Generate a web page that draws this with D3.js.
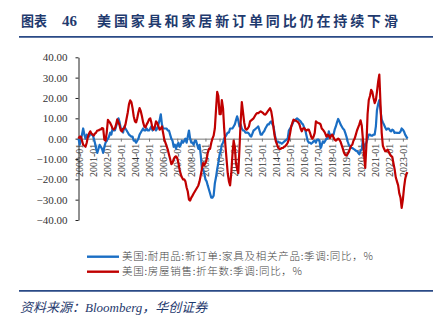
<!DOCTYPE html>
<html><head><meta charset="utf-8">
<script src="https://cdn.jsdelivr.net/npm/d3@7"></script>
<style>
html,body{margin:0;padding:0;background:#fff;}
svg{display:block;}
</style></head>
<body>
<svg id="chart" width="442" height="323"></svg>
<script>
// ---- data ----
const startMonth = "2000-01";
const xTickLabels = ["2000-01","2001-01","2002-01","2003-01","2004-01","2005-01","2006-01","2007-01","2008-01","2009-01","2010-01","2011-01","2012-01","2013-01","2014-01","2015-01","2016-01","2017-01","2018-01","2019-01","2020-01","2021-01","2022-01","2023-01"];
const yTicks = [-40,-30,-20,-10,0,10,20,30,40];
const seriesNames = ["美国:耐用品:新订单:家具及相关产品:季调:同比，%","美国:房屋销售:折年数:季调:同比，%"];
const furnitureOrders = [
 0,-3,-1,2,5,2,0,2,1,1,3,2,
 2,0,-2,-5,-7,-5,-3,-4,-5,-7,-4,-2,
 -1,0,1,3,2,5,4,4,6,8,10,8,
 5,4,3,6,5,4,3,2,1.5,1,1,-1,
 -1,-2,-1,0,2,3,4,5,4,4,5,4,
 4,5,6,4,5,6,4,5,7,9,12,7,
 5,5,5,5,4,4,2,0,-1,-4,-3,-5,
 -3,-2,-4,-3,-1,-2,-1,0,-2,1,4,0,
 -2,-2,-3,-1,-1,-3,-5,-3,-8,-15,-15,-17,
 -20,-21,-23,-25,-27,-29,-29,-28,-22,-19,-15,-12,
 -8,-6,-3,-2,0,1,2,3,3,5,5,5,
 6,7,9,11,9,6,7,5,4,4,3,3,
 3,2.5,1.5,1,2.5,4,4.4,5,5.5,6,4,2,
 2,3,3.6,5,6,7,7,8,8.5,7,6,2,
 -0.5,-2,-1.5,-2,-2,-2.5,-2,-1.5,-1,-0.5,0,4,
 5,6,7,8.5,9,9.5,10,9.5,9,8.5,7.5,7,
 5.5,4,1.5,-1,-2,-2,-2.5,-2,-1.3,-1,-2,-0.5,
 -0.5,-1,-4.6,-3,-1.3,-2,-1,0,0,3.6,1.3,2,
 1.5,2,4.4,6,8,9.7,8.5,7,6,5,4.4,2.8,
 1,-1.3,-3,-3.7,-4.6,-4.6,-5,-5.4,-6,-6,-7,-7.7,
 -6,-5.4,-0.5,-5,-3,-2,0,2,2,1.5,1.5,2,
 2,6,14,17,19,14,9.4,8,6.8,5.5,4.4,5,
 5,4,3.6,4.4,4,2.8,3,2.8,2.8,2.8,3.5,5,
 4.4,3.5,2,1,0
];
const homeSales = [
 0,1,1,-1,-3,-3.5,-4,-2,1,2.5,3.6,2.5,
 2,1.5,2.5,3,4,4,4.4,4.5,5.2,5,-0.5,-1,
 3,9.3,8.5,7.7,6.5,5,4.5,5,7,9.5,8,6.5,
 4,3.5,5,5,7,10,13,17,18.8,18,15,11,
 8.5,8,10,13,15,13.5,11,8,6,5.5,7,8,
 9.5,10,8,5,4.4,6,8.5,7.7,6,4.4,5,6,
 2.8,-0.5,-2,-3.7,-5.4,-7.8,-10,-12.5,-12,-10,-9,-8.7,
 -9.5,-12,-15,-17.5,-19,-20,-20,-21,-24,-26,-30,-30.4,
 -29,-28,-27,-26,-25,-24,-23,-21,-18,-15,-12,-13,
 -12,-10.3,-7,-5,-5,-2,0,1.5,5,14,23,21,
 12,12,19,15,5,-3,-10,-17,-21,-23,-17,-8,
 -1,-4,-12,-15,-17,-5,8,18,13,8,5,4.4,
 5,6,8.5,9,9.5,10,11,12,12.6,12.5,13,13.4,
 13,12.6,12,11.8,12.5,13.4,14.2,15,13.4,10,5,1,
 -1.5,-3,-4.5,-5,-5,-4.6,-4.6,-4,-3.7,-3,-2,-0.5,
 2.5,6,7.7,9.3,9,8.8,8.5,8,7,5,3.6,5,
 5.2,4.4,4,4.4,4.4,2.8,1,0,1,2.8,8.5,8,
 7.7,7.5,7,5,4.4,3.6,2.5,1,2,1.5,0.3,1.5,
 2,0.5,-0.5,-1,-0.5,0,-0.5,-1.5,-3.3,-5,-7,-8,
 -8.3,-7.5,-6.5,-5,-3.5,-3,-1,0,2,4,5.5,7,
 9,6.5,0,-8,-14.4,-3,12,19,21,24,23,20,
 17.5,19,23,28,31.5,17,3,-3.5,-5,-6.2,-6,-5.4,
 -6.5,-7.8,-8.5,-9,-12,-15,-19,-21,-23,-27,-29,-34,
 -30,-24,-20,-17.4,-16.5
];
const colors = ["#1a6ec4","#c00000"];

// ---- chart ----
const svg = d3.select("#chart");
const parse = d3.timeParse("%Y-%m");
const t0 = parse(startMonth);
const months = furnitureOrders.map((_, i) => d3.timeMonth.offset(t0, i));

const x = d3.scaleTime().domain([months[0], months[months.length-1]]).range([78.5, 407.5]);
const y = d3.scaleLinear().domain([-40, 40]).range([220, 57.3]);

// title
const navy = "#1f3a6e";
svg.append("text").attr("x", 21).attr("y", 26)
  .attr("font-family", "'Noto Sans CJK SC'").attr("font-weight", 700).attr("font-size", 13.5)
  .attr("fill", navy).attr("textLength", 26).attr("lengthAdjust","spacingAndGlyphs").text("图表");
svg.append("text").attr("x", 62).attr("y", 26)
  .attr("font-family", "'Liberation Serif'").attr("font-weight", 700).attr("font-size", 15)
  .attr("fill", navy).text("46");
svg.append("text").attr("x", 97).attr("y", 26)
  .attr("font-family", "'Noto Sans CJK SC'").attr("font-weight", 700).attr("font-size", 14)
  .attr("fill", navy).attr("textLength", 301).attr("lengthAdjust","spacing")
  .text("美国家具和家居新订单同比仍在持续下滑");
svg.append("line").attr("x1", 19).attr("x2", 433).attr("y1", 36.8).attr("y2", 36.8)
  .attr("stroke", "#2a4a86").attr("stroke-width", 1.8);

// y axis
const yAxis = d3.axisLeft(y).tickValues(yTicks).tickFormat(d3.format(".2f"))
  .tickSize(3).tickSizeOuter(0).tickPadding(8);
const gy = svg.append("g").attr("transform", "translate(78.5,0)").call(yAxis);
gy.select(".domain").attr("stroke", "#222").attr("stroke-width", 1);
gy.selectAll(".tick line").attr("stroke", "#222");
gy.selectAll(".tick text").attr("font-family", "'Liberation Serif'").attr("font-size", 11).attr("fill", "#333");

// x axis at zero
const yearTicks = xTickLabels.map(s => parse(s));
const xAxis = d3.axisBottom(x).tickValues(yearTicks)
  .tickFormat((d, i) => xTickLabels[i]).tickSize(3).tickSizeOuter(0).tickPadding(2);
const gx = svg.append("g").attr("transform", `translate(0,${y(0)})`).call(xAxis);
gx.select(".domain").attr("stroke", "#777").attr("stroke-width", 1);
gx.selectAll(".tick line").attr("stroke", "#777");
gx.selectAll(".tick text")
  .attr("font-family", "'Liberation Serif'").attr("font-size", 10).attr("fill", "#333")
  .attr("text-anchor", "end").attr("dy", "0.35em")
  .attr("transform", "translate(0,3) rotate(-90)")
  .attr("x", -2).attr("y", 0);

// lines
const line = d3.line().x((d, i) => x(months[i])).y(d => y(d));
[furnitureOrders, homeSales].forEach((s, k) => {
  svg.append("path").datum(s).attr("d", line)
    .attr("fill", "none").attr("stroke", colors[k]).attr("stroke-width", 2.2)
    .attr("stroke-linejoin", "round");
});

// legend
const legY = [256.7, 271.7];
const legW = [251, 180];
seriesNames.forEach((n, k) => {
  svg.append("line").attr("x1", 87).attr("x2", 119).attr("y1", legY[k]).attr("y2", legY[k])
    .attr("stroke", colors[k]).attr("stroke-width", 2.4);
  svg.append("text").attr("x", 122).attr("y", legY[k] + 3.6)
    .attr("font-family", "'Noto Sans CJK SC'").attr("font-size", 10.5).attr("font-weight", 300)
    .attr("fill", "#444")
    .attr("textLength", legW[k]).attr("lengthAdjust", "spacing").text(n);
});

// bottom rule and source
svg.append("line").attr("x1", 19).attr("x2", 433).attr("y1", 290.8).attr("y2", 290.8)
  .attr("stroke", "#2a4a86").attr("stroke-width", 1.8);
const src = svg.append("text").attr("x", 20).attr("y", 311.5)
  .attr("font-size", 13).attr("font-style", "italic").attr("fill", navy);
src.append("tspan").attr("font-family", "'Noto Sans CJK SC'").text("资料来源：");
src.append("tspan").attr("font-family", "'Liberation Serif'").text("Bloomberg");
src.append("tspan").attr("font-family", "'Noto Sans CJK SC'").text("，华创证券");
</script>
</body></html>
